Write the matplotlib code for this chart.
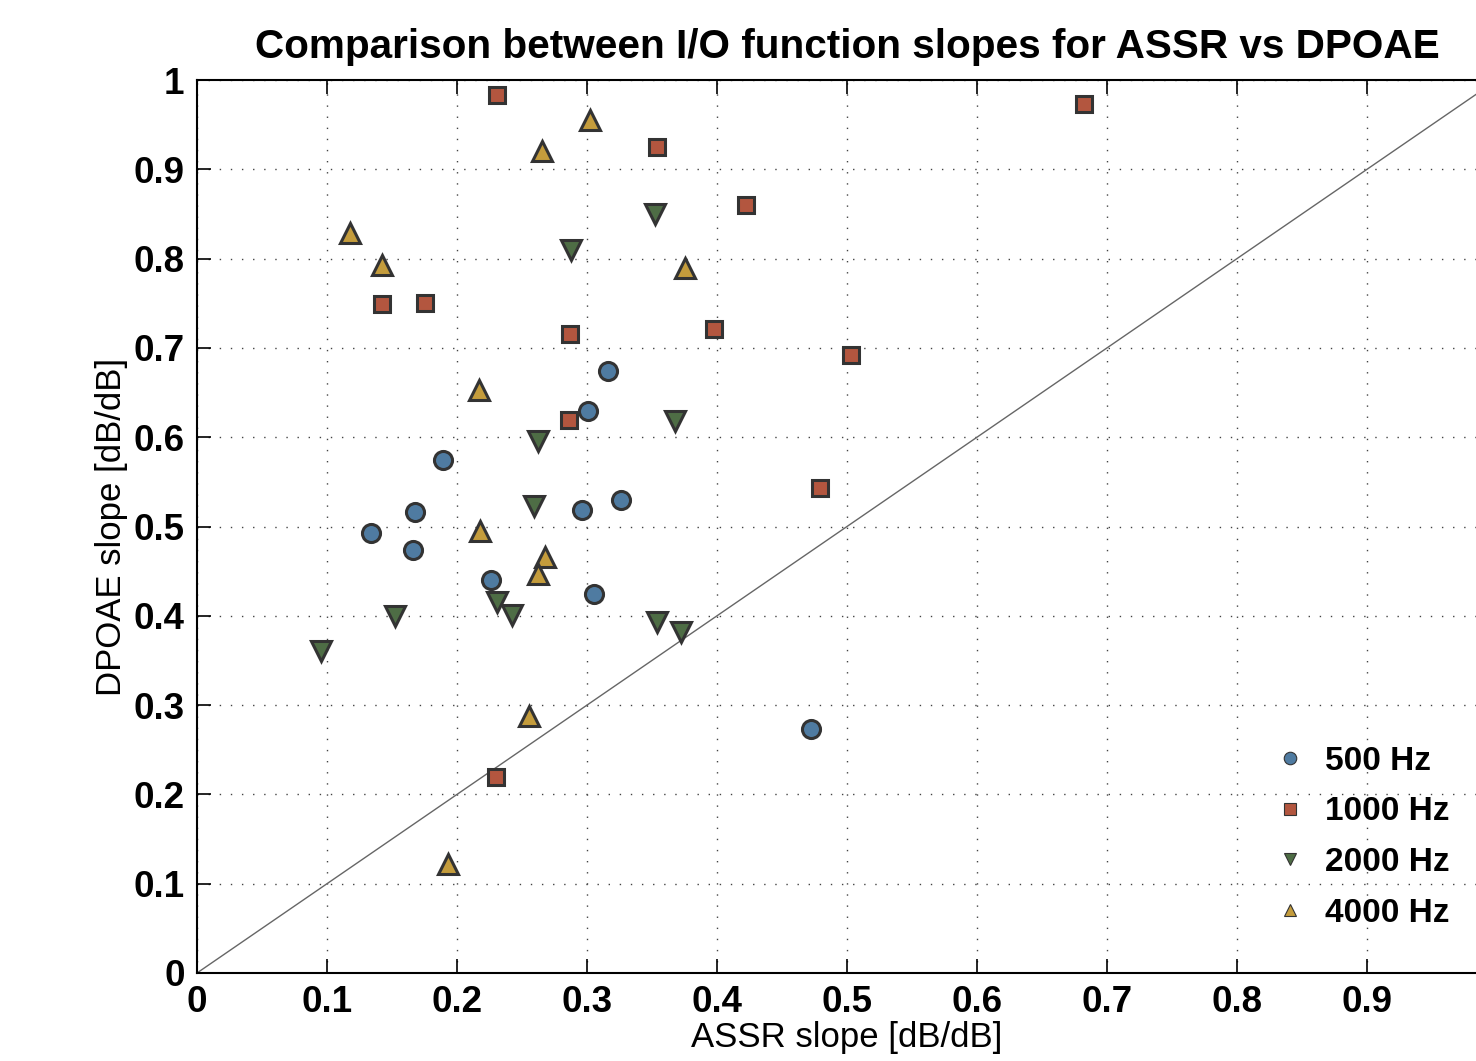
import matplotlib.pyplot as plt
from matplotlib.lines import Line2D

plt.rcParams['font.family'] = ['Liberation Sans', 'DejaVu Sans']

# slopes read per frequency: ASSR (x) vs DPOAE (y)
x_500 = [0.134, 0.168, 0.166, 0.189, 0.226, 0.316, 0.301, 0.296, 0.326, 0.305, 0.472]
y_500 = [0.493, 0.516, 0.474, 0.574, 0.440, 0.674, 0.629, 0.518, 0.530, 0.424, 0.273]

x_1000 = [0.231, 0.682, 0.354, 0.422, 0.142, 0.175, 0.287, 0.398, 0.503, 0.286, 0.479, 0.230]
y_1000 = [0.983, 0.973, 0.925, 0.860, 0.749, 0.750, 0.716, 0.721, 0.692, 0.619, 0.543, 0.219]

x_2000 = [0.352, 0.288, 0.368, 0.262, 0.259, 0.152, 0.231, 0.242, 0.095, 0.354, 0.372]
y_2000 = [0.850, 0.810, 0.618, 0.596, 0.523, 0.400, 0.415, 0.401, 0.361, 0.393, 0.382]

x_4000 = [0.302, 0.265, 0.118, 0.142, 0.375, 0.217, 0.218, 0.268, 0.262, 0.255, 0.193]
y_4000 = [0.955, 0.920, 0.829, 0.793, 0.789, 0.653, 0.495, 0.466, 0.447, 0.288, 0.122]

labels = ['500 Hz', '1000 Hz', '2000 Hz', '4000 Hz']
colors = ['#4f7ba1', '#b3563f', '#4e6d45', '#c49c3c']
markers = ['o', 's', 'v', '^']
sizes = [13, 11, 15, 15]
edge = '#333333'

fig = plt.figure(figsize=(14.76, 10.61), dpi=100)
ax = fig.add_axes([197 / 1476, 88 / 1061, 1300 / 1476, 893 / 1061])

series = [(x_500, y_500), (x_1000, y_1000), (x_2000, y_2000), (x_4000, y_4000)]
for (xs, ys), c, m, s in zip(series, colors, markers, sizes):
    ax.plot(xs, ys, linestyle='none', marker=m, markersize=s,
            markerfacecolor=c, markeredgecolor=edge, markeredgewidth=2.2, zorder=3)

# unity line
ax.plot([0, 1], [0, 1], color='#666666', linewidth=1.0, zorder=2)

ax.set_xlim(0, 1)
ax.set_ylim(0, 1)
ticks = [0, 0.1, 0.2, 0.3, 0.4, 0.5, 0.6, 0.7, 0.8, 0.9, 1]
ticklabels = ['0', '0.1', '0.2', '0.3', '0.4', '0.5', '0.6', '0.7', '0.8', '0.9', '1']
ax.set_xticks(ticks)
ax.set_xticklabels(ticklabels[:-1] + [''])
ax.set_yticks(ticks)
ax.set_yticklabels(ticklabels)
ax.tick_params(direction='in', length=10, width=1.2, top=True, right=True,
               labelsize=26.5, pad=9)
for lab in ax.get_xticklabels() + ax.get_yticklabels():
    lab.set_fontweight('bold')
for sp in ax.spines.values():
    sp.set_linewidth(1.5)

ax.grid(True, color='#444444', linestyle=(0, (1, 7)), linewidth=1.0)

ax.set_xlabel('ASSR slope [dB/dB]', fontsize=25, labelpad=0)
ax.set_ylabel('DPOAE slope [dB/dB]', fontsize=25, labelpad=4)
ax.set_title('Comparison between I/O function slopes for ASSR vs DPOAE',
             fontsize=29.2, fontweight='bold', pad=16)

handles = [Line2D([], [], linestyle='none', marker=m, markersize=9,
                  markerfacecolor=c, markeredgecolor=edge, markeredgewidth=0.8)
           for c, m in zip(colors, markers)]
leg = ax.legend(handles, labels, loc='lower right', bbox_to_anchor=(0.987, 0.016),
                frameon=False, prop={'size': 24, 'weight': 'bold'},
                handlelength=1.0, handletextpad=0.55, labelspacing=0.59)

fig.savefig('out.png', dpi=100)
